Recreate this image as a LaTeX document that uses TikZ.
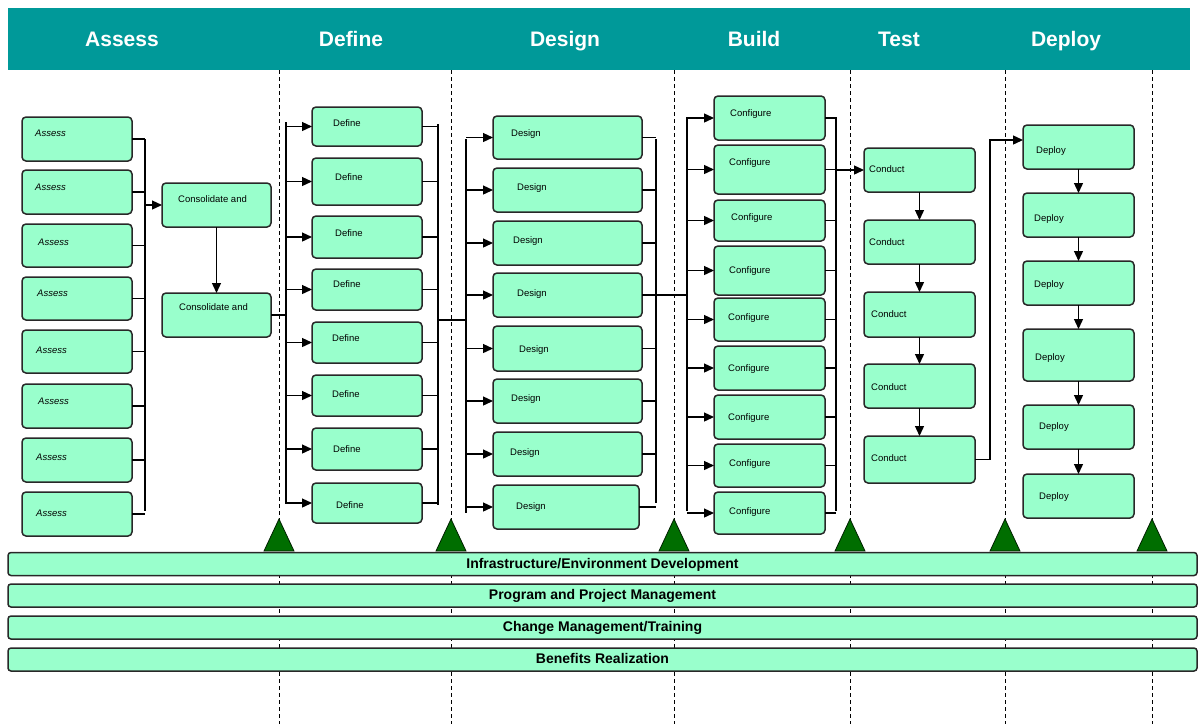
\documentclass[tikz,border=0pt]{standalone}
\usepackage{fontspec}
\setmainfont{Liberation Sans}
\usetikzlibrary{arrows.meta,calc}
\definecolor{mint}{RGB}{153,255,204}
\definecolor{tealhdr}{RGB}{0,153,153}
\definecolor{dgreen}{RGB}{0,110,0}
\definecolor{edgegray}{RGB}{40,40,40}
\tikzset{
  box/.style={draw=edgegray, line width=1.5pt, fill=mint, rounded corners=4pt, inner sep=0pt, outer sep=0pt},
  lbl/.style={anchor=west, inner sep=0pt, text height=6.5pt, text depth=2pt, font=\fontsize{9.5}{10}\selectfont},
  hdr/.style={text=white, anchor=base, font=\fontsize{21}{24}\selectfont\bfseries, inner sep=0pt},
  bar/.style={draw=edgegray, line width=1.5pt, fill=mint, rounded corners=3pt, inner sep=0pt, outer sep=0pt,
              minimum width=1189pt, minimum height=23pt, text height=10pt, text depth=1.5pt,
              font=\fontsize{14}{16}\selectfont\bfseries},
  conn/.style={line width=1.3pt, black},
  busline/.style={line width=2pt, black},
  arr/.style={conn, -{Triangle[length=10pt,width=9pt]}},
  vline/.style={line width=0.8pt, dash pattern=on 4pt off 3pt, black},
}
\newcommand\bx[8]{%
  \node[box, minimum width={#4-#2}, minimum height={#5-#3}] (#1) at ({(#2+#4)/2},{(#3+#5)/2}) {};
  \node[lbl] (#1t) at (#6,#7+1) {#8};}
\begin{document}
\begin{tikzpicture}[x=1pt,y=-1pt]
\useasboundingbox (0,0) rectangle (1198,724);
% header
\node[fill=tealhdr, minimum width=1182pt, minimum height=62pt, inner sep=0pt, anchor=north west] (hdrbar) at (8,8) {};
\node[hdr] (h1) at (122,46) {Assess};
\node[hdr] (h2) at (351,46) {Define};
\node[hdr] (h3) at (565,46) {Design};
\node[hdr] (h4) at (754,46) {Build};
\node[hdr] (h5) at (899,46) {Test};
\node[hdr] (h6) at (1066,46) {Deploy};
% dashed phase lines
\foreach \x in {279,451,674,850,1005,1152} \draw[vline] (\x,70) -- (\x,724);

% buses
\coordinate (busA1) at (145,139); \coordinate (busA2) at (145,511);
\coordinate (busD1) at (286,122); \coordinate (busD2) at (286,504);
\coordinate (busE1) at (438,124); \coordinate (busE2) at (438,505);
\coordinate (busF1) at (466,139); \coordinate (busF2) at (466,513);
\coordinate (busG1) at (656,139); \coordinate (busG2) at (656,503);
\coordinate (busH1) at (687,117); \coordinate (busH2) at (687,511);
\coordinate (busK1) at (836,117); \coordinate (busK2) at (836,511);
\coordinate (lk1) at (438,320);
\foreach \a/\b in {busA1/busA2,busD1/busD2,busE1/busE2,busF1/busF2,busG1/busG2,busH1/busH2,busK1/busK2}
  \draw[busline] (\a) -- (\b);

% Assess boxes
\bx{a1}{22}{117}{132}{161}{35}{133}{\textit{Assess}}
\bx{a2}{22}{170}{132}{214}{35}{187}{\textit{Assess}}
\bx{a3}{22}{224}{132}{267}{38}{242}{\textit{Assess}}
\bx{a4}{22}{277}{132}{320}{37}{293}{\textit{Assess}}
\bx{a5}{22}{330}{132}{373}{36}{350}{\textit{Assess}}
\bx{a6}{22}{384}{132}{428}{38}{401}{\textit{Assess}}
\bx{a7}{22}{438}{132}{482}{36}{457}{\textit{Assess}}
\bx{a8}{22}{492}{132}{536}{36}{513}{\textit{Assess}}
% Consolidate
\bx{c1}{162}{183}{271}{227}{178}{199}{Consolidate and}
\bx{c2}{162}{293}{271}{337}{179}{307}{Consolidate and}
% Define
\bx{d1}{312}{107}{422}{146}{333}{123}{Define}
\bx{d2}{312}{158}{422}{205}{335}{177}{Define}
\bx{d3}{312}{216}{422}{258}{335}{233}{Define}
\bx{d4}{312}{269}{422}{310}{333}{284}{Define}
\bx{d5}{312}{322}{422}{363}{332}{338}{Define}
\bx{d6}{312}{375}{422}{416}{332}{394}{Define}
\bx{d7}{312}{428}{422}{470}{333}{449}{Define}
\bx{d8}{312}{483}{422}{523}{336}{505}{Define}
% Design
\bx{g1}{493}{116}{642}{159}{511}{133}{Design}
\bx{g2}{493}{168}{642}{212}{517}{187}{Design}
\bx{g3}{493}{221}{642}{265}{513}{240}{Design}
\bx{g4}{493}{273}{642}{317}{517}{293}{Design}
\bx{g5}{493}{326}{642}{371}{519}{349}{Design}
\bx{g6}{493}{379}{642}{423}{511}{398}{Design}
\bx{g7}{493}{432}{642}{476}{510}{452}{Design}
\bx{g8}{493}{485}{639}{529}{516}{506}{Design}
% Build
\bx{k1}{714}{96}{825}{140}{730}{113}{Configure}
\bx{k2}{714}{145}{825}{194}{729}{162}{Configure}
\bx{k3}{714}{200}{825}{241}{731}{217}{Configure}
\bx{k4}{714}{246}{825}{295}{729}{270}{Configure}
\bx{k5}{714}{298}{825}{341}{728}{317}{Configure}
\bx{k6}{714}{346}{825}{390}{728}{368}{Configure}
\bx{k7}{714}{395}{825}{439}{728}{417}{Configure}
\bx{k8}{714}{444}{825}{487}{729}{463}{Configure}
\bx{k9}{714}{492}{825}{534}{729}{511}{Configure}
% Test
\bx{t1}{864}{148}{975}{192}{869}{169}{Conduct}
\bx{t2}{864}{220}{975}{264}{869}{242}{Conduct}
\bx{t3}{864}{292}{975}{337}{871}{314}{Conduct}
\bx{t4}{864}{364}{975}{408}{871}{387}{Conduct}
\bx{t5}{864}{436}{975}{483}{871}{458}{Conduct}
% Deploy
\bx{p1}{1023}{125}{1134}{169}{1036}{150}{Deploy}
\bx{p2}{1023}{193}{1134}{237}{1034}{218}{Deploy}
\bx{p3}{1023}{261}{1134}{305}{1034}{284}{Deploy}
\bx{p4}{1023}{329}{1134}{381}{1035}{357}{Deploy}
\bx{p5}{1023}{405}{1134}{449}{1039}{426}{Deploy}
\bx{p6}{1023}{474}{1134}{518}{1039}{496}{Deploy}

% connectors
\foreach \i in {1,...,8} \draw[conn] (a\i.east) -- (a\i.east -| busA1);
\draw[arr] (busA1 |- c1.west) -- (c1.west);
\draw[arr] (c1.south) -- (c2.north);
\draw[conn] (c2.east) -- (c2.east -| busD1);
\foreach \i in {1,...,8} {
  \draw[arr] (busD1 |- d\i.west) -- (d\i.west);
  \draw[conn] (d\i.east) -- (d\i.east -| busE1);
  \draw[arr] (busF1 |- g\i.west) -- (g\i.west);
  \draw[conn] (g\i.east) -- (g\i.east -| busG1);
}
\draw[conn] (lk1) -- (lk1 -| busF1);
\draw[conn] (g4.east -| busG1) -- (g4.east -| busH1);
\foreach \i in {1,...,9} {
  \draw[arr] (busH1 |- k\i.west) -- (k\i.west);
  \draw[conn] (k\i.east) -- (k\i.east -| busK1);
}
\draw[arr] (busK1 |- t1.west) -- (t1.west);
\draw[arr] (t1.south) -- (t2.north);
\draw[arr] (t2.south) -- (t3.north);
\draw[arr] (t3.south) -- (t4.north);
\draw[arr] (t4.south) -- (t5.north);
\draw[arr] (t5.east) -- ++(15,0) |- ($(p1.west)+(0,-7)$);
\draw[arr] (p1.south) -- (p2.north);
\draw[arr] (p2.south) -- (p3.north);
\draw[arr] (p3.south) -- (p4.north);
\draw[arr] (p4.south) -- (p5.north);
\draw[arr] (p5.south) -- (p6.north);

% milestones
\foreach \x in {279,451,674,850,1005,1152}
  \filldraw[fill=dgreen, draw=black!70!dgreen, line width=0.8pt] (\x-15,551) -- (\x,519) -- (\x+15,551) -- cycle;

% bottom bars
\node[bar] (b1) at (602.5,564) {Infrastructure/Environment Development};
\node[bar] (b2) at (602.5,595.5) {Program and Project Management};
\node[bar] (b3) at (602.5,627.5) {Change Management/Training};
\node[bar] (b4) at (602.5,659.5) {Benefits Realization};
\end{tikzpicture}
\end{document}
